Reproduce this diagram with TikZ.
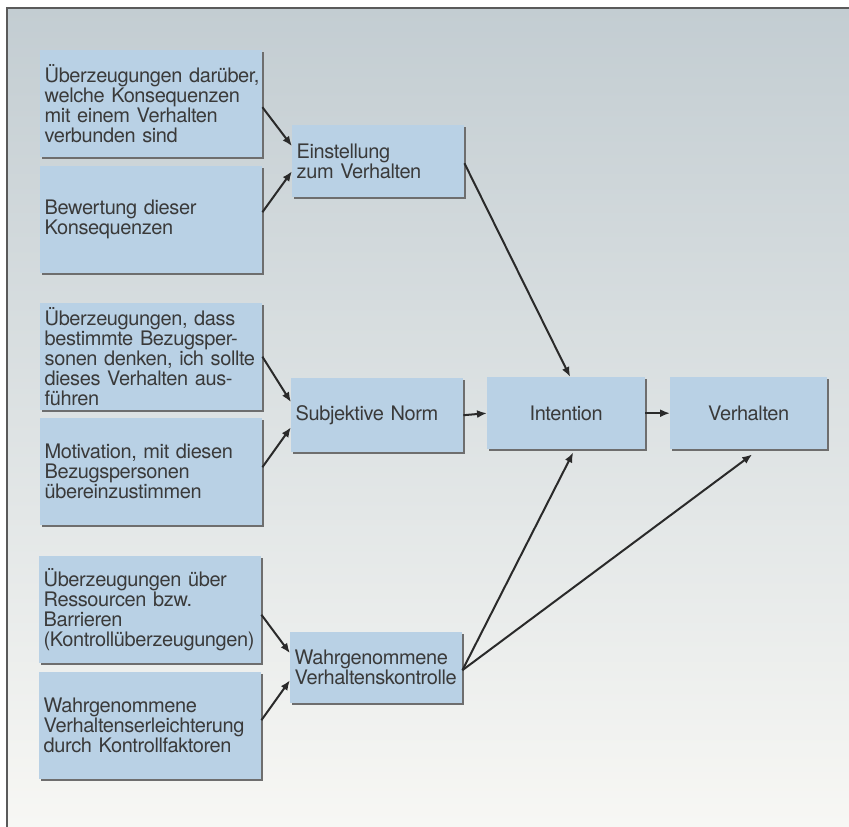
\documentclass[tikz,border=0pt]{standalone}
\usepackage{fontspec}
\setmainfont{TeX Gyre Heros}[LetterSpace=-2]
\usetikzlibrary{arrows.meta,shadows}
\definecolor{bgtop}{HTML}{C3CDD2}
\definecolor{bgbot}{HTML}{F7F7F4}
\definecolor{boxfill}{HTML}{B9D1E5}
\definecolor{shadowc}{HTML}{6E6E6E}
\definecolor{framec}{HTML}{5A5A5A}
\definecolor{arrowc}{HTML}{2A2A2A}
\definecolor{textc}{HTML}{3A3A3A}
\begin{document}
\begin{tikzpicture}[x=1pt,y=-1pt,
  boxbase/.style={fill=boxfill, draw=none, anchor=north west, inner ysep=0pt, inner xsep=4.5pt,
    text=textc, font=\fontsize{20}{20}\selectfont,
    drop shadow={shadow xshift=1.6pt, shadow yshift=-1.6pt, fill=shadowc, opacity=1}},
  leftbox/.style={boxbase, align=left, text width=213pt, minimum height=107pt},
  midbox/.style={boxbase, align=left, text width=163pt, minimum height=72pt},
  rightbox/.style={boxbase, align=center, text width=149pt, minimum height=72pt},
  arr/.style={draw=arrowc, line width=2pt, -{Latex[length=10pt,width=8pt]}}
]
\useasboundingbox (0,0) rectangle (849,827);
\shade[top color=bgtop, bottom color=bgbot] (7,8) rectangle (849,827);
\draw[framec, line width=1.5pt] (7,827) -- (7,8) -- (849,8);

\node[leftbox] (a1) at (40,50) {\mbox{Überzeugungen darüber,}\\\mbox{welche Konsequenzen}\\mit einem Verhalten\\verbunden sind};
\node[leftbox] (a2) at (40,166) {Bewertung dieser\\Konsequenzen};
\node[midbox] (ein) at (292,125) {Einstellung\\zum Verhalten};

\node[leftbox] (b1) at (40,303) {Überzeugungen, dass\\bestimmte Bezugsper-\\\mbox{sonen denken, ich sollte}\\dieses Verhalten aus-\\führen};
\node[leftbox] (b2) at (40,418) {\mbox{Motivation, mit diesen}\\Bezugspersonen\\übereinzustimmen};
\node[midbox, minimum height=74pt] (sn) at (291,378) {Subjektive Norm};

\node[rightbox] (int) at (487,377) {Intention};
\node[rightbox, text width=148pt] (ver) at (670,377) {Verhalten};

\node[leftbox] (c1) at (39,556) {Überzeugungen über\\Ressourcen bzw.\\Barrieren\\\mbox{(Kontrollüberzeugungen)}};
\node[leftbox] (c2) at (39,672) {Wahrgenommene\\\mbox{Verhaltenserleichterung}\\\mbox{durch Kontrollfaktoren}};
\node[midbox, minimum height=71pt] (wvk) at (290,632) {Wahrgenommene\\\mbox{Verhaltenskontrolle}};

\draw[arr] ([yshift=-3.5pt]a1.east) -- ([yshift=15pt]ein.west);
\draw[arr] ([yshift=7.5pt]a2.east) -- ([yshift=-10pt]ein.west);
\draw[arr] (b1.east) -- ([yshift=13pt]sn.west);
\draw[arr] ([yshift=4.5pt]b2.east) -- ([yshift=-12pt]sn.west);
\draw[arr] ([yshift=-5pt]c1.east) -- ([yshift=14.5pt]wvk.west);
\draw[arr] ([yshift=5.5pt]c2.east) -- ([yshift=-12.5pt]wvk.west);
\draw[arr] (sn.east) -- (int.west);
\draw[arr] (int.east) -- (ver.west);
\draw[arr] ([yshift=-2pt]ein.east) -- ([xshift=4pt]int.north);
\draw[arr] ([yshift=-2.5pt]wvk.east) -- ([xshift=7pt,yshift=-3pt]int.south);
\draw[arr] ([yshift=-2.5pt]wvk.east) -- ([xshift=3.5pt,yshift=-5pt]ver.south);
\end{tikzpicture}
\end{document}
